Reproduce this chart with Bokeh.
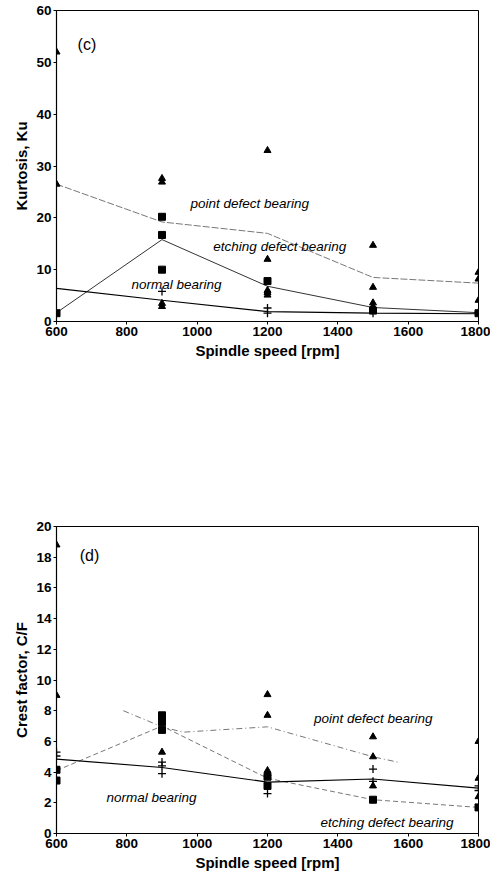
from bokeh.plotting import figure
from bokeh.layouts import column
from bokeh.models import Range1d, Label, FixedTicker
from bokeh.embed import file_html
from bokeh.resources import INLINE

# ---------------- data ----------------
speed = [600, 900, 1200, 1500, 1800]
speed_ticks = [600, 800, 1000, 1200, 1400, 1600, 1800]

# (c) Kurtosis
ku_ticks = [0, 10, 20, 30, 40, 50, 60]
ku_normal_line = [6.4, 4.1, 1.9, 1.6, 1.5]
ku_etching_line = [1.7, 15.8, 6.8, 2.7, 1.7]
ku_point_line = [26.5, 19.2, 17.0, 8.5, 7.4]

ku_tri_x = [600, 600, 900, 900, 900, 900, 1200, 1200, 1200, 1200, 1200, 1500, 1500, 1500, 1500, 1500, 1800, 1800, 1800]
ku_tri_y = [52, 26.5, 27.6, 26.9, 3.5, 2.9, 33, 12, 6.0, 5.6, 5.1, 14.7, 6.6, 3.6, 2.9, 2.3, 9.5, 8.2, 4.1]
ku_sq_x = [600, 900, 900, 900, 1200, 1500, 1800]
ku_sq_y = [1.6, 20.2, 16.7, 10.0, 7.8, 2.1, 1.6]
ku_plus_x = [900, 1200, 1200, 1500, 1800]
ku_plus_y = [5.8, 2.6, 1.6, 1.6, 1.8]

# (d) Crest factor
cf_ticks = [0, 2, 4, 6, 8, 10, 12, 14, 16, 18, 20]
cf_normal_line = [4.85, 4.3, 3.35, 3.55, 2.95]
cf_etching_line = [4.1, 7.0, 3.6, 2.2, 1.7]
cf_point_x = [790, 900, 960, 1200, 1500, 1570]
cf_point_line = [8.0, 6.95, 6.6, 6.95, 5.0, 4.65]

cf_tri_x = [600, 600, 900, 1200, 1200, 1200, 1200, 1500, 1500, 1500, 1800, 1800, 1800]
cf_tri_y = [18.8, 9.0, 5.3, 9.05, 7.7, 4.1, 3.9, 6.3, 5.0, 3.1, 6.0, 3.6, 2.4]
cf_sq_x = [600, 600, 900, 900, 900, 1200, 1200, 1500, 1800]
cf_sq_y = [4.15, 3.45, 7.7, 7.25, 6.75, 3.7, 3.1, 2.2, 1.7]
cf_plus_x = [600, 600, 900, 900, 900, 1200, 1500, 1500, 1800, 1800]
cf_plus_y = [5.3, 5.05, 4.65, 4.4, 3.9, 2.6, 4.2, 3.4, 3.1, 2.8]

FONT = "Liberation Sans"


def style(p, yticks):
    p.outline_line_color = "black"
    p.outline_line_width = 1
    p.grid.visible = False
    p.xaxis.ticker = FixedTicker(ticks=speed_ticks)
    p.yaxis.ticker = FixedTicker(ticks=yticks)
    for ax in (p.xaxis[0], p.yaxis[0]):
        ax.axis_line_color = "black"
        ax.axis_line_width = 1.2
        ax.major_tick_in = 0
        ax.major_tick_out = 3
        ax.minor_tick_line_color = None
        ax.major_label_text_font = FONT
        ax.major_label_text_font_size = "13.5px"
        ax.major_label_text_font_style = "bold"
        ax.major_label_text_color = "black"
        ax.axis_label_text_font = FONT
        ax.axis_label_text_font_size = "15px"
        ax.axis_label_text_font_style = "bold"
        ax.axis_label_text_color = "black"
        ax.major_label_standoff = 2
        ax.axis_label_standoff = 3


def add_label(p, x, y, text, italic=True, size="13.5px"):
    p.add_layout(Label(x=x, y=y, text=text, text_font=FONT,
                       text_font_size=size,
                       text_font_style="italic" if italic else "normal",
                       text_baseline="middle", text_align="left",
                       text_color="black"))


# ---------------- (c) ----------------
p1 = figure(width=490, height=437, output_backend="svg", toolbar_location=None,
            x_range=Range1d(600, 1800), y_range=Range1d(0, 60),
            min_border_left=56, min_border_right=9, min_border_top=10,
            min_border_bottom=116)
style(p1, ku_ticks)
p1.xaxis.axis_label = "Spindle speed [rpm]"
p1.yaxis.axis_label = "Kurtosis, Ku"

p1.line(speed, ku_point_line, line_color="#777777", line_width=1, line_dash="7 2")
p1.line(speed, ku_etching_line, line_color="#333333", line_width=1)
p1.line(speed, ku_normal_line, line_color="black", line_width=1.2)
p1.scatter(ku_tri_x, ku_tri_y, marker="triangle", size=7, color="black")
p1.scatter(ku_sq_x, ku_sq_y, marker="square", size=7, color="black")
p1.scatter(ku_plus_x, ku_plus_y, marker="cross", size=8, line_color="black", line_width=1.3)

add_label(p1, 660, 53.5, "(c)", italic=False, size="16px")
add_label(p1, 981, 22.8, "point defect bearing")
add_label(p1, 1046, 14.4, "etching defect bearing")
add_label(p1, 813, 7.2, "normal bearing")

# ---------------- (d) ----------------
p2 = figure(width=490, height=436, output_backend="svg", toolbar_location=None,
            x_range=Range1d(600, 1800), y_range=Range1d(0, 20),
            min_border_left=56, min_border_right=12, min_border_top=89,
            min_border_bottom=40)
style(p2, cf_ticks)
p2.xaxis.axis_label = "Spindle speed [rpm]"
p2.yaxis.axis_label = "Crest factor, C/F"

p2.line(cf_point_x, cf_point_line, line_color="#777777", line_width=1, line_dash="6 3 1 3")
p2.line(speed, cf_etching_line, line_color="#777777", line_width=1, line_dash="5 3")
p2.line(speed, cf_normal_line, line_color="black", line_width=1.2)
p2.scatter(cf_tri_x, cf_tri_y, marker="triangle", size=7, color="black")
p2.scatter(cf_sq_x, cf_sq_y, marker="square", size=7, color="black")
p2.scatter(cf_plus_x, cf_plus_y, marker="cross", size=8, line_color="black", line_width=1.3)

add_label(p2, 666, 18.1, "(d)", italic=False, size="16px")
add_label(p2, 1332, 7.47, "point defect bearing")
add_label(p2, 742, 2.37, "normal bearing")
add_label(p2, 1351, 0.74, "etching defect bearing")

layout = column(p1, p2, spacing=0)
open("out.html", "w").write(file_html(layout, INLINE))
